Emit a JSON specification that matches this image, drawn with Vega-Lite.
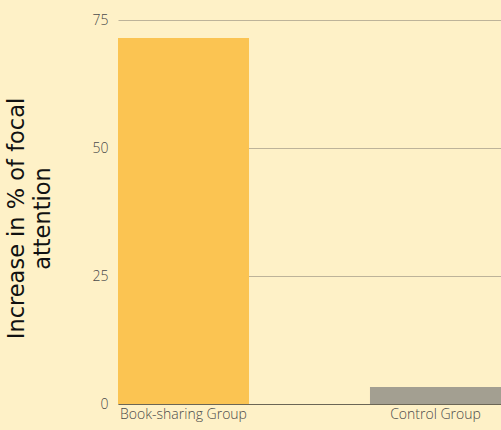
{
  "$schema": "https://vega.github.io/schema/vega-lite/v6.json",
  "autosize": {"type": "none"},
  "padding": {"left": 118, "top": 20, "right": 0, "bottom": 26},
  "width": 383,
  "height": 384,
  "background": "#FEF1C7",
  "config": {"view": {"stroke": null}, "font": "Open Sans"},
  "data": {"values": [
    {"group": "Book-sharing Group", "value": 71.5},
    {"group": "Control Group", "value": 3.3}
  ]},
  "mark": {"type": "bar", "clip": false},
  "encoding": {
    "x": {
      "field": "group", "type": "nominal", "sort": null,
      "scale": {"paddingInner": 0.48, "paddingOuter": 0},
      "axis": {"title": null, "labelAngle": 0, "labelFontSize": 14, "labelFontWeight": 300, "labelColor": "#4a4a4a", "labelFont": "Open Sans", "ticks": false, "domainColor": "#6b6655", "domainWidth": 1.2, "labelPadding": 3}
    },
    "y": {
      "field": "value", "type": "quantitative",
      "scale": {"domain": [0, 75], "nice": false},
      "axis": {"values": [0, 25, 50, 75], "title": ["Increase in % of focal", "attention"], "titleFontSize": 22.5, "titleFont": "DejaVu Sans", "titleFontWeight": "normal", "titleColor": "#111111", "titlePadding": 38, "titleLineHeight": 26, "titleY": 198, "labelFontSize": 14, "labelFontWeight": 300, "labelColor": "#4a4a4a", "labelFont": "Open Sans", "ticks": false, "domain": false, "labelPadding": 10, "gridColor": "#bdb399", "gridWidth": 1}
    },
    "color": {
      "field": "group", "type": "nominal", "legend": null,
      "scale": {"domain": ["Book-sharing Group", "Control Group"], "range": ["#FBC452", "#A39F91"]}
    }
  }
}
